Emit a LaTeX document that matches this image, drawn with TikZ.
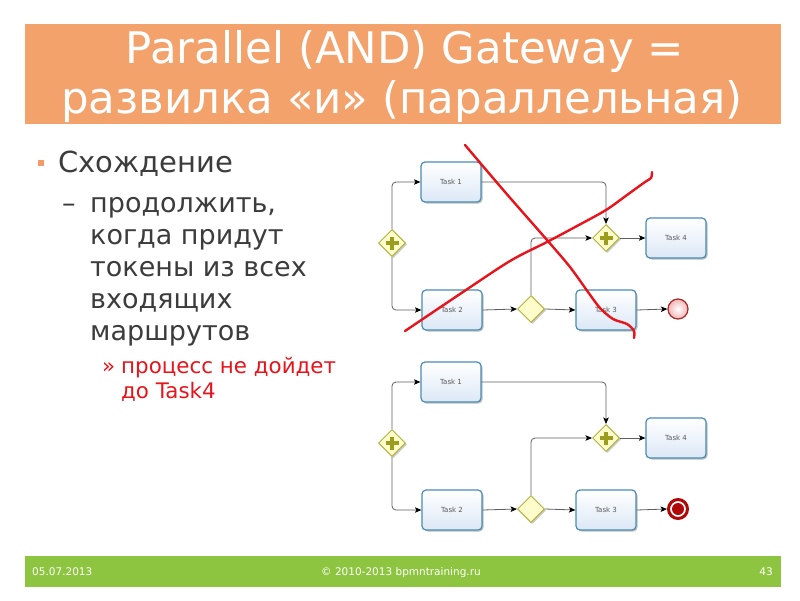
\documentclass[tikz,border=0pt]{standalone}
\usepackage{fontspec}
\setmainfont{DejaVu Sans}
\usetikzlibrary{shapes.geometric,arrows.meta,shadows}
\definecolor{titleor}{HTML}{F4A26B}
\definecolor{footgreen}{HTML}{8DC540}
\definecolor{bodytext}{HTML}{3C3C3C}
\definecolor{redtext}{HTML}{E8141B}
\definecolor{taskborder}{HTML}{4A8CB4}
\definecolor{taskfill}{HTML}{DCE8F6}
\definecolor{gwborder}{HTML}{B2B23E}
\definecolor{gwfill}{HTML}{FDFDCB}
\definecolor{gwplus}{HTML}{9C9C1E}
\definecolor{conn}{HTML}{5E5E5E}
\definecolor{endred}{HTML}{A82828}
\definecolor{endfill}{HTML}{F3B5B5}
\definecolor{termred}{HTML}{B00808}
\definecolor{strokered}{HTML}{E8141B}
\tikzset{
  task/.style={rectangle, rounded corners=4pt, draw=taskborder, line width=1.2pt,
    top color=white, bottom color=taskfill, minimum width=60pt, minimum height=40pt,
    inner sep=0pt, font=\fontsize{7}{8}\selectfont, text=black!65,
    drop shadow={shadow xshift=1.5pt, shadow yshift=-1.5pt, opacity=0.25, fill=black}},
  gw/.style={diamond, shape aspect=1, draw=gwborder, fill=gwfill, line width=1pt,
    minimum width=27pt, minimum height=27pt, inner sep=0pt,
    drop shadow={shadow xshift=1.5pt, shadow yshift=-1.5pt, opacity=0.2, fill=black}},
  plusline/.style={gwplus, line width=3.6pt},
  flow/.style={conn, line width=0.8pt, rounded corners=4pt, -{Stealth[length=6.5pt,width=5.5pt,inset=1.5pt,black]}},
  endev/.style={circle, draw=endred, line width=1.2pt, inner color=white, outer color=endfill,
    minimum size=20pt, inner sep=0pt},
  termev/.style={circle, draw=termred, line width=3pt, fill=white, minimum size=19pt, inner sep=0pt},
  cross/.style={strokered, line width=2.4pt, line cap=round, line join=round},
  bodyfont/.style={font=\fontsize{27}{32}\selectfont, text=bodytext, anchor=base west, inner sep=0pt},
  headfont/.style={font=\fontsize{29}{32}\selectfont, text=bodytext, anchor=base west, inner sep=0pt},
  redfont/.style={font=\fontsize{21.4}{25}\selectfont, text=redtext, anchor=base west, inner sep=0pt},
  titlefont/.style={font=\fontsize{43.5}{44}\selectfont, text=white, anchor=base},
  footfont/.style={font=\fontsize{10.5}{12}\selectfont, text=white, anchor=base}
}
\newcommand\gwplus[1]{%
  \draw[plusline] ([xshift=-6.5pt]#1.center) -- ([xshift=6.5pt]#1.center);
  \draw[plusline] ([yshift=-6.5pt]#1.center) -- ([yshift=6.5pt]#1.center);}
\begin{document}
\begin{tikzpicture}[x=1pt,y=-1pt]
\useasboundingbox (0,0) rectangle (800,600);
\fill[white] (0,0) rectangle (800,600);
% title band
\fill[titleor] (25,24) rectangle (781,124);
\node[titlefont] (title1) at (405,63) {Parallel (AND) Gateway =};
\node[titlefont] (title2) at (402,113) {развилка «и» (параллельная)};
% footer band
\fill[footgreen] (25,556) rectangle (781,587);
\node[footfont, anchor=base west, inner sep=0pt] (fdate) at (32,575) {05.07.2013};
\node[footfont] (fcopy) at (401,575) {© 2010-2013 bpmntraining.ru};
\node[footfont, anchor=base east, inner sep=0pt] (fpage) at (773,575) {43};
% left text
\fill[titleor!95!red] (38,160) rectangle (44,166);
\node[headfont] (l1) at (58,172) {Схождение};
\node[bodyfont] (dash) at (62,212) {–};
\node[bodyfont] (l2) at (90,212) {продолжить,};
\node[bodyfont] (l3) at (90,244) {когда придут};
\node[bodyfont] (l4) at (90,276) {токены из всех};
\node[bodyfont] (l5) at (90,308) {входящих};
\node[bodyfont] (l6) at (90,340) {маршрутов};
\node[redfont] (r0) at (102,373) {»};
\node[redfont] (r1) at (121,373) {процесс не дойдет};
\node[redfont] (r2) at (121,398) {до Task4};

% ---------- diagram A ----------
\node[task] (t1a) at (451,182) {Task 1};
\node[task] (t2a) at (452,310) {Task 2};
\node[task] (t3a) at (606,310) {Task 3};
\node[task] (t4a) at (676,238) {Task 4};
\node[gw] (g1a) at (392,243) {};
\node[gw] (xa) at (531,309) {};
\node[gw] (ja) at (606,238) {};
\node[endev] (ea) at (678,309) {};
\gwplus{g1a}
\gwplus{ja}
\draw[flow] (g1a.north) |- (t1a.west);
\draw[flow] (g1a.south) |- (t2a.west);
\draw[flow] (t1a.east) -| (ja.north);
\draw[flow] (t2a.east) -- (xa.west);
\draw[flow] (xa.north) |- (ja.west);
\draw[flow] (xa.east) -- (t3a.west);
\draw[flow] (t3a.east) -- (ea.west);
\draw[flow] (ja.east) -- (t4a.west);
% red cross-out strokes
\draw[cross] plot[smooth, tension=0.5] coordinates {(465,145) (505,192) (547,240) (570,267) (588,292) (600,308) (613,319) (627,324) (634,331) (634,338)};
\draw[cross] plot[smooth, tension=0.5] coordinates {(405,331) (460,294) (510,261) (547,242) (577,226) (606,210) (627,195) (645,182) (651,178) (652,172)};

% ---------- diagram B ----------
\node[task] (t1b) at (451,382) {Task 1};
\node[task] (t2b) at (452,510) {Task 2};
\node[task] (t3b) at (606,510) {Task 3};
\node[task] (t4b) at (676,438) {Task 4};
\node[gw] (g1b) at (392,443) {};
\node[gw] (xb) at (531,509) {};
\node[gw] (jb) at (606,438) {};
\node[termev] (eb) at (678,509) {};
\fill[termred] (eb.center) circle (6pt);
\gwplus{g1b}
\gwplus{jb}
\draw[flow] (g1b.north) |- (t1b.west);
\draw[flow] (g1b.south) |- (t2b.west);
\draw[flow] (t1b.east) -| (jb.north);
\draw[flow] (t2b.east) -- (xb.west);
\draw[flow] (xb.north) |- (jb.west);
\draw[flow] (xb.east) -- (t3b.west);
\draw[flow] (t3b.east) -- (eb.west);
\draw[flow] (jb.east) -- (t4b.west);
\end{tikzpicture}
\end{document}
